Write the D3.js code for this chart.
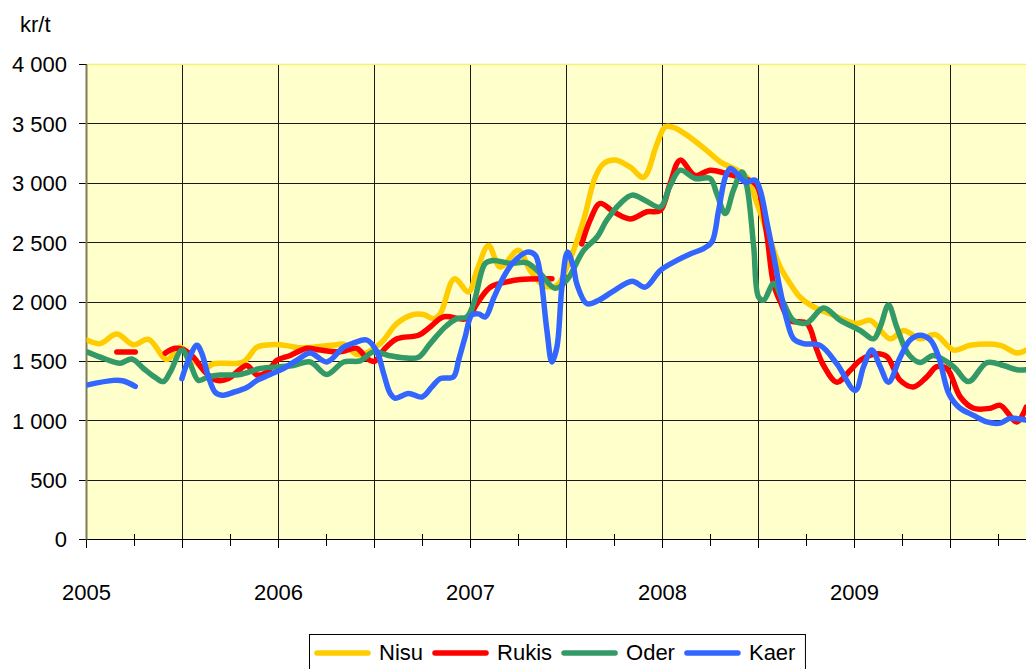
<!DOCTYPE html>
<html><head><meta charset="utf-8">
<script src="https://cdn.jsdelivr.net/npm/d3@7/dist/d3.min.js"></script>
<style>
body{margin:0;background:#fff}
svg{display:block}
text{font-family:"Liberation Sans",Arial,sans-serif;fill:#000}
</style>
</head><body>
<svg id="chart" width="1026" height="669"></svg>
<script>
// ---- data ----
const seriesNames = ["Nisu", "Rukis", "Oder", "Kaer"];
const seriesColors = ["#FFCC00", "#FF0000", "#339966", "#3366FF"];
const yearLabels = [2005, 2006, 2007, 2008, 2009];
const yTickValues = [0, 500, 1000, 1500, 2000, 2500, 3000, 3500, 4000];
const unitLabel = "kr/t";

// [decimal year, kr/t]; null value = gap in the series
const nisu = [[2005.002,1680],[2005.071,1650],[2005.158,1730],[2005.245,1640],[2005.323,1685],[2005.419,1515],[2005.488,1620],[2005.557,1510],[2005.618,1440],[2005.660,1480],[2005.816,1495],[2005.888,1620],[2005.957,1640],[2006.009,1640],[2006.113,1615],[2006.182,1620],[2006.304,1640],[2006.339,1645],[2006.415,1555],[2006.530,1650],[2006.617,1820],[2006.703,1895],[2006.755,1895],[2006.807,1860],[2006.842,1900],[2006.916,2195],[2006.990,2085],[2007.033,2265],[2007.094,2475],[2007.155,2295],[2007.250,2435],[2007.311,2265],[2007.380,2140],[2007.450,2140],[2007.510,2325],[2007.589,2690],[2007.649,3050],[2007.693,3165],[2007.754,3195],[2007.832,3135],[2007.901,3050],[2007.971,3330],[2008.014,3475],[2008.057,3470],[2008.127,3405],[2008.231,3275],[2008.301,3180],[2008.388,3110],[2008.440,3050],[2008.492,2830],[2008.561,2520],[2008.613,2295],[2008.665,2155],[2008.717,2040],[2008.786,1960],[2008.873,1900],[2009.012,1820],[2009.082,1845],[2009.186,1690],[2009.255,1760],[2009.342,1690],[2009.421,1725],[2009.516,1595],[2009.603,1635],[2009.759,1635],[2009.846,1570],[2009.894,1595]];

const rukis = [[2005.158,1580],[2005.254,1580],[2005.330,null],[2005.410,1570],[2005.462,1610],[2005.505,1600],[2005.557,1535],[2005.618,1410],[2005.679,1340],[2005.740,1355],[2005.783,1410],[2005.835,1465],[2005.888,1385],[2005.940,1410],[2005.992,1510],[2006.061,1550],[2006.148,1610],[2006.217,1595],[2006.321,1580],[2006.408,1610],[2006.460,1525],[2006.500,1500],[2006.547,1595],[2006.617,1690],[2006.729,1720],[2006.790,1790],[2006.859,1875],[2006.981,1860],[2007.033,1985],[2007.103,2125],[2007.190,2170],[2007.259,2190],[2007.424,2195],[2007.500,null],[2007.580,2490],[2007.623,2690],[2007.675,2830],[2007.745,2760],[2007.832,2700],[2007.919,2760],[2007.988,2770],[2008.040,3000],[2008.092,3195],[2008.170,3065],[2008.248,3110],[2008.335,3080],[2008.422,3040],[2008.487,2990],[2008.540,2600],[2008.579,2150],[2008.617,1990],[2008.665,1845],[2008.752,1820],[2008.804,1595],[2008.839,1465],[2008.908,1325],[2008.978,1425],[2009.030,1510],[2009.117,1565],[2009.169,1540],[2009.238,1340],[2009.307,1285],[2009.377,1370],[2009.429,1455],[2009.481,1440],[2009.551,1200],[2009.620,1105],[2009.707,1105],[2009.759,1130],[2009.846,990],[2009.894,1115]];

const oder = [[2005.002,1580],[2005.089,1525],[2005.176,1485],[2005.236,1520],[2005.297,1440],[2005.358,1365],[2005.401,1330],[2005.436,1410],[2005.497,1595],[2005.540,1480],[2005.583,1340],[2005.635,1370],[2005.696,1385],[2005.801,1390],[2005.905,1440],[2006.009,1455],[2006.078,1465],[2006.165,1495],[2006.252,1390],[2006.339,1495],[2006.426,1505],[2006.495,1580],[2006.573,1550],[2006.651,1530],[2006.729,1535],[2006.790,1650],[2006.868,1790],[2006.929,1860],[2006.981,1875],[2007.016,1985],[2007.077,2325],[2007.120,2350],[2007.207,2325],[2007.294,2330],[2007.363,2240],[2007.441,2115],[2007.502,2185],[2007.589,2435],[2007.658,2545],[2007.710,2690],[2007.780,2830],[2007.841,2900],[2007.910,2855],[2007.988,2800],[2008.040,2980],[2008.092,3110],[2008.170,3040],[2008.248,3040],[2008.283,2910],[2008.327,2745],[2008.369,2940],[2008.414,3095],[2008.440,2970],[2008.475,2465],[2008.501,2040],[2008.527,2015],[2008.579,2155],[2008.631,1990],[2008.683,1845],[2008.752,1825],[2008.839,1950],[2008.926,1845],[2009.030,1760],[2009.099,1690],[2009.134,1790],[2009.177,1975],[2009.220,1790],[2009.279,1565],[2009.342,1490],[2009.411,1550],[2009.516,1455],[2009.594,1330],[2009.690,1490],[2009.776,1465],[2009.846,1430],[2009.894,1430]];

const kaer = [[2005.000,1300],[2005.141,1340],[2005.193,1335],[2005.254,1290],[2005.400,null],[2005.497,1355],[2005.531,1510],[2005.575,1635],[2005.601,1565],[2005.635,1370],[2005.670,1240],[2005.705,1215],[2005.766,1240],[2005.835,1280],[2005.888,1340],[2005.957,1390],[2006.026,1440],[2006.096,1510],[2006.165,1570],[2006.252,1495],[2006.339,1620],[2006.391,1655],[2006.460,1680],[2006.513,1580],[2006.547,1400],[2006.582,1230],[2006.608,1190],[2006.677,1230],[2006.747,1200],[2006.799,1285],[2006.842,1355],[2006.911,1370],[2006.938,1510],[2006.972,1705],[2007.007,1890],[2007.042,1900],[2007.077,1875],[2007.120,2030],[2007.172,2210],[2007.224,2335],[2007.294,2420],[2007.337,2395],[2007.363,2240],[2007.398,1760],[2007.424,1495],[2007.450,1620],[2007.476,2125],[2007.505,2420],[2007.536,2295],[2007.554,2150],[2007.607,1985],[2007.668,2015],[2007.738,2085],[2007.842,2175],[2007.910,2125],[2007.988,2265],[2008.075,2350],[2008.144,2405],[2008.214,2450],[2008.257,2505],[2008.292,2770],[2008.327,3050],[2008.353,3125],[2008.388,3080],[2008.431,3010],[2008.483,3025],[2008.509,2940],[2008.544,2670],[2008.579,2390],[2008.613,2100],[2008.648,1845],[2008.683,1690],[2008.734,1650],[2008.821,1635],[2008.908,1480],[2009.004,1255],[2009.047,1455],[2009.090,1595],[2009.134,1455],[2009.177,1325],[2009.238,1535],[2009.290,1680],[2009.342,1720],[2009.395,1680],[2009.439,1535],[2009.491,1230],[2009.543,1115],[2009.620,1045],[2009.690,990],[2009.759,980],[2009.811,1020],[2009.894,1005]];

const seriesData = [nisu, rukis, oder, kaer];

// ---- layout ----
const W = 1026, H = 669;
const plotLeft = 86.5, plotTop = 64.5, plotBottom = 539.5;
const svg = d3.select("#chart");

const x = d3.scaleLinear().domain([2005, 2010]).range([plotLeft, plotLeft + 960]);
const y = d3.scaleLinear().domain([0, 4000]).range([plotBottom, plotTop]);

const fmt = d3.formatLocale({decimal: ",", thousands: " ", grouping: [3], currency: ["", ""]}).format(",");
const snap = v => Math.round(v - 0.5) + 0.5;

// plot background
svg.append("rect").attr("x", plotLeft).attr("y", plotTop).attr("width", W - plotLeft).attr("height", plotBottom - plotTop)
  .attr("fill", "#FFFFCC");
svg.append("line").attr("x1", plotLeft).attr("x2", W).attr("y1", plotTop).attr("y2", plotTop)
  .attr("stroke", "#F2F27A").attr("stroke-width", 1.5);

// grid
const gGrid = svg.append("g").attr("shape-rendering", "crispEdges");
gGrid.selectAll("line.h").data(yTickValues.filter(v => v > 0 && v < 4000)).join("line").attr("class", "h")
  .attr("x1", plotLeft).attr("x2", W).attr("y1", d => snap(y(d))).attr("y2", d => snap(y(d)))
  .attr("stroke", "#1a1a1a").attr("stroke-width", 1);
const halfYears = d3.range(2005.5, 2010, 0.5);
gGrid.selectAll("line.v").data(halfYears).join("line").attr("class", "v")
  .attr("x1", d => x(d)).attr("x2", d => x(d)).attr("y1", plotTop).attr("y2", plotBottom)
  .attr("stroke", "#1a1a1a").attr("stroke-width", 1);

// y axis
const gY = svg.append("g").attr("shape-rendering", "crispEdges");
gY.selectAll("line").data(yTickValues).join("line")
  .attr("x1", plotLeft - 8).attr("x2", plotLeft).attr("y1", d => snap(y(d))).attr("y2", d => snap(y(d)))
  .attr("stroke", "#000");
svg.selectAll("text.ylab").data(yTickValues).join("text").attr("class", "ylab")
  .attr("x", 67).attr("y", d => y(d)).attr("dy", "0.36em").attr("text-anchor", "end")
  .attr("font-size", 22).text(d => fmt(d));
svg.append("text").attr("x", 20).attr("y", 32).attr("font-size", 22).text(unitLabel);

// x axis
const gX = svg.append("g").attr("shape-rendering", "crispEdges");
gX.append("line").attr("x1", plotLeft).attr("x2", W).attr("y1", plotBottom).attr("y2", plotBottom).attr("stroke", "#000");
const majorTicks = d3.range(2005, 2010, 0.5);
gX.selectAll("line.maj").data(majorTicks).join("line").attr("class", "maj")
  .attr("x1", d => x(d)).attr("x2", d => x(d)).attr("y1", plotBottom).attr("y2", plotBottom + 8).attr("stroke", "#000");
const minorTicks = d3.range(2005.25, 2010, 0.5);
gX.selectAll("line.min").data(minorTicks).join("line").attr("class", "min")
  .attr("x1", d => x(d)).attr("x2", d => x(d)).attr("y1", plotBottom - 6).attr("y2", plotBottom + 6).attr("stroke", "#000");
svg.selectAll("text.xlab").data(yearLabels).join("text").attr("class", "xlab")
  .attr("x", d => x(d)).attr("y", 600).attr("text-anchor", "middle").attr("font-size", 22).text(d => d);

// y axis line
svg.append("line").attr("x1", plotLeft).attr("x2", plotLeft).attr("y1", plotTop).attr("y2", plotBottom)
  .attr("stroke", "#7d7d55").attr("stroke-width", 2);

// series
svg.append("clipPath").attr("id", "clip").append("rect")
  .attr("x", plotLeft).attr("y", plotTop - 10).attr("width", W - plotLeft).attr("height", plotBottom - plotTop + 20);
const line = d3.line().defined(d => d[1] !== null)
  .x(d => x(d[0])).y(d => y(d[1])).curve(d3.curveCatmullRom.alpha(0.5));
const gS = svg.append("g").attr("clip-path", "url(#clip)");
seriesData.forEach((data, i) => {
  gS.append("path").datum(data).attr("d", line).attr("fill", "none")
    .attr("stroke", seriesColors[i]).attr("stroke-width", 5.5)
    .attr("stroke-linejoin", "round").attr("stroke-linecap", "round");
});

// legend
const lg = svg.append("g");
const box = lg.append("rect").attr("x", 309.5).attr("y", 634.5).attr("height", 40)
  .attr("fill", "#fff").attr("stroke", "#000").attr("stroke-width", 1);
let cx = 317;
seriesNames.forEach((name, i) => {
  lg.append("line").attr("x1", cx).attr("x2", cx + 51).attr("y1", 653).attr("y2", 653)
    .attr("stroke", seriesColors[i]).attr("stroke-width", 5.5).attr("stroke-linecap", "round");
  const t = lg.append("text").attr("x", cx + 62).attr("y", 660).attr("font-size", 22).text(name);
  cx = cx + 62 + t.node().getComputedTextLength() + 12;
});
box.attr("width", cx - 309.5 - 2);
</script>
</body></html>
